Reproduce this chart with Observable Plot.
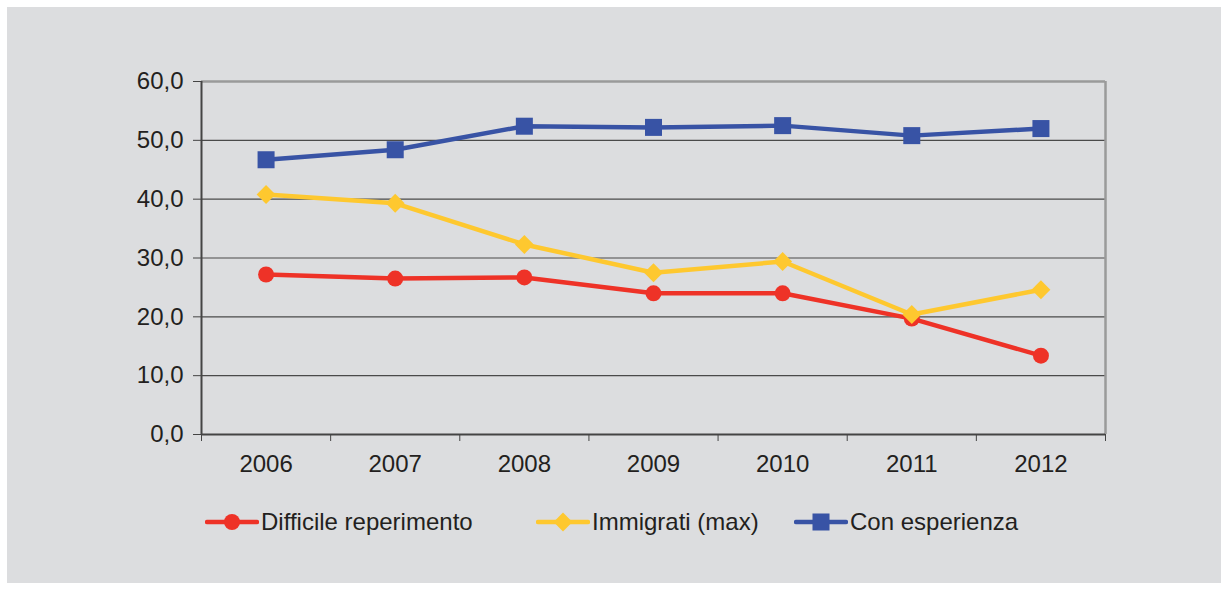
<!DOCTYPE html>
<html>
<head>
<meta charset="utf-8">
<script src="https://cdn.jsdelivr.net/npm/d3@7"></script>
<script src="https://cdn.jsdelivr.net/npm/@observablehq/plot@0.6"></script>
<style>
  html, body { margin: 0; padding: 0; background: #ffffff; }
  #frame { position: absolute; left: 7px; top: 7px; width: 1214px; height: 576px; background: #dcdddf; font-family: "Liberation Sans", Arial, sans-serif; color: #231f20; }
  #legend { position: absolute; left: 0; top: 500px; width: 100%; height: 30px; }
  .item { position: absolute; top: 0; display: flex; align-items: center; font-size: 24px; height: 30px; }
  .item svg { margin-right: 2px; }
</style>
</head>
<body>
<div id="frame">
  <div id="chart"></div>
  <div id="legend"></div>
</div>
<script>
const years = [2006, 2007, 2008, 2009, 2010, 2011, 2012];
const difficile = [27.2, 26.5, 26.7, 24.0, 24.0, 19.7, 13.4];
const immigrati = [40.8, 39.3, 32.3, 27.5, 29.4, 20.4, 24.6];
const esperienza = [46.7, 48.4, 52.4, 52.2, 52.5, 50.8, 52.0];
const seriesNames = ["Difficile reperimento", "Immigrati (max)", "Con esperienza"];
const yTicks = [0, 10, 20, 30, 40, 50, 60];

const colors = ["#ee3227", "#fec82f", "#3853a5"];
const symbols = ["circle", "diamond2", "square"];
const radii = [8, 8.5, 9.6];
const values = [difficile, immigrati, esperienza];

const data = [];
values.forEach((vals, i) => years.forEach((yr, j) => data.push({series: seriesNames[i], year: yr, value: vals[j]})));

const bounds = [...years.map(y => y - 0.5), years[years.length - 1] + 0.5];
const xDomain = [bounds[0], bounds[bounds.length - 1]];
const fmt = d => d.toFixed(1).replace(".", ",");

const marks = [
  Plot.ruleY(yTicks.slice(1, -1), {stroke: "#4a4a4a", strokeWidth: 1.2}),
  Plot.ruleY([yTicks[yTicks.length - 1]], {stroke: "#9a9a9a", strokeWidth: 2.5}),
  Plot.ruleX([xDomain[1]], {stroke: "#9a9a9a", strokeWidth: 2.5}),
  Plot.ruleX([xDomain[0]], {stroke: "#444", strokeWidth: 2}),
  Plot.ruleY([0], {stroke: "#444", strokeWidth: 2}),
  Plot.axisY({ticks: yTicks, tickFormat: fmt, tickSize: 8, tickPadding: 10, stroke: "#444", fontSize: 24, label: null}),
  Plot.axisX({ticks: bounds, tickFormat: () => "", tickSize: 7, stroke: "#444", label: null}),
  Plot.axisX({ticks: years, tickFormat: d => String(d), tickSize: 0, tickPadding: 20, fontSize: 24, label: null})
];
seriesNames.forEach((name, i) => {
  const d = data.filter(r => r.series === name);
  marks.push(Plot.line(d, {x: "year", y: "value", stroke: colors[i], strokeWidth: 4.5}));
});
seriesNames.forEach((name, i) => {
  const d = data.filter(r => r.series === name);
  marks.push(Plot.dot(d, {x: "year", y: "value", fill: colors[i], symbol: symbols[i], r: radii[i], stroke: "none"}));
});

const chart = Plot.plot({
  width: 1214,
  height: 480,
  marginLeft: 194,
  marginRight: 116,
  marginTop: 74,
  marginBottom: 53,
  style: {background: "transparent", fontFamily: "'Liberation Sans', Arial, sans-serif", fontSize: "24px", color: "#231f20"},
  x: {domain: xDomain},
  y: {domain: [yTicks[0], yTicks[yTicks.length - 1]]},
  marks
});
document.getElementById("chart").appendChild(chart);

// legend
const legend = document.getElementById("legend");
const lefts = [198, 529, 787];
seriesNames.forEach((name, i) => {
  const item = document.createElement("div");
  item.className = "item";
  item.style.left = lefts[i] + "px";
  const sym = d3.symbol(i === 0 ? d3.symbolCircle : i === 1 ? d3.symbolDiamond2 : d3.symbolSquare, Math.PI * radii[i] * radii[i])();
  item.innerHTML = `<svg width="54" height="30"><line x1="2" x2="52" y1="15" y2="15" stroke="${colors[i]}" stroke-width="4.5" stroke-linecap="round"/><path transform="translate(27,15)" d="${sym}" fill="${colors[i]}"/></svg><span>${name}</span>`;
  legend.appendChild(item);
});
</script>
</body>
</html>
